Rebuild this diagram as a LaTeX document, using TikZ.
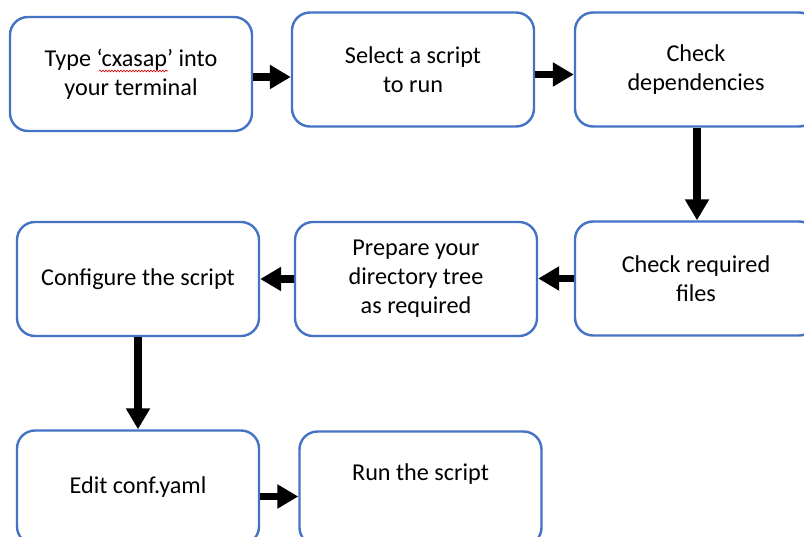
\documentclass[tikz,border=0pt]{standalone}
\usepackage{fontspec}
\setmainfont{Carlito}
\usetikzlibrary{arrows.meta,decorations.pathmorphing}
\definecolor{boxblue}{HTML}{4472C4}
\tikzset{
  stepbox/.style={draw=boxblue, line width=2.4pt, rounded corners=18pt, fill=white,
    minimum width=242pt, minimum height=114pt, align=center,
    font=\fontsize{24.2}{29}\selectfont, inner sep=0pt},
  arr/.style={line width=7.5pt, -{Triangle[length=21pt,width=23pt]}},
  squiggle/.style={draw=red!85!black, line width=0.6pt,
    decorate, decoration={snake, amplitude=0.9pt, segment length=3pt}}
}
\begin{document}
\begin{tikzpicture}[x=1pt,y=-1pt]
\useasboundingbox (0,0) rectangle (804,537);
\begin{scope}
\clip (0,0) rectangle (804,537);
\node[stepbox] (b1) at (131,74) {Type ‘cxasap’ into\\your terminal};
\node[stepbox] (b2) at (413,69.5) {Select a script\\to run};
\node[stepbox] (b3) at (696,69.5) {Check\\dependencies};
\node[stepbox] (b4) at (696,278.5) {Check required\\files};
\node[stepbox] (b5) at (416,279) {Prepare your\\directory tree\\as required};
\node[stepbox] (b6) at (138,279) {Configure the script};
\node[stepbox] (b7) at (138,487.5) {Edit conf.yaml};
\node[stepbox, label={[yshift=14pt, font=\fontsize{24.2}{29}\selectfont]center:Run the script}] (b8) at (420.5,488.5) {};
\coordinate (w1) at (99,71);
\coordinate (w2) at (168,71);
\path[squiggle] (w1) -- (w2);
\draw[arr] ([yshift=-3pt]b1.east) -- ([yshift=-3pt]b1.east -| b2.west);
\draw[arr] ([yshift=-5pt]b2.east) -- ([yshift=-5pt]b2.east -| b3.west);
\draw[arr] ([xshift=1pt]b3.south) -- ([xshift=1pt]b3.south |- b4.north);
\draw[arr] (b4.west) -- (b4.west -| b5.east);
\draw[arr] (b5.west) -- (b5.west -| b6.east);
\draw[arr] (b6.south) -- (b6.south |- b7.north);
\draw[arr] ([yshift=-9pt]b7.east) -- ([yshift=-9pt]b7.east -| b8.west);
\end{scope}
\end{tikzpicture}
\end{document}
